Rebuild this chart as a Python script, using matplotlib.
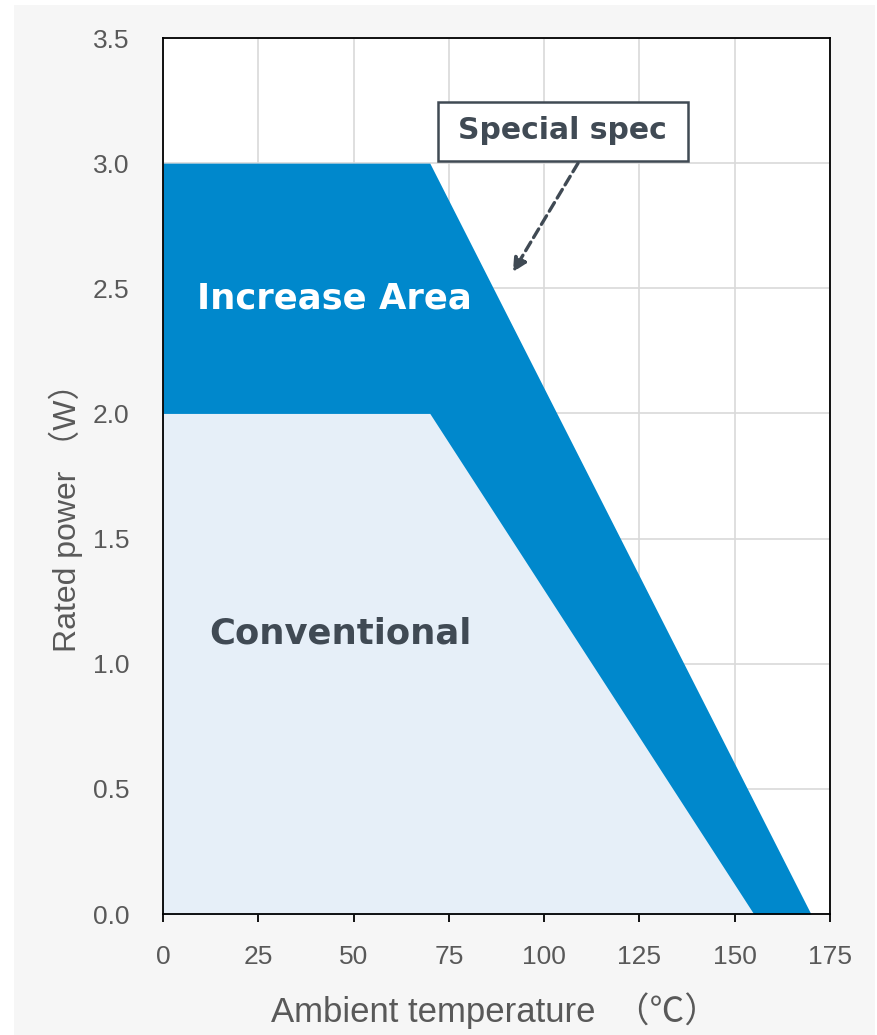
import matplotlib.pyplot as plt
from matplotlib.patches import Rectangle

# ---------- DATA ----------
special_temp = [0, 70, 170]
special_power = [3.0, 3.0, 0.0]
conv_temp = [0, 70, 155]
conv_power = [2.0, 2.0, 0.0]

x_ticks = [0, 25, 50, 75, 100, 125, 150, 175]
y_ticks = [0.0, 0.5, 1.0, 1.5, 2.0, 2.5, 3.0, 3.5]

# ---------- STYLE ----------
dark_blue = "#0088cc"
light_blue = "#e6eff8"
text_dark = "#404a54"
tick_gray = "#595959"
label_font = ["Liberation Sans", "Noto Sans CJK JP"]

fig = plt.figure(figsize=(8.77, 10.35), dpi=100, facecolor="white")
fig.patches.append(Rectangle((14 / 877, 0), 861 / 877, 1 - 5 / 1035,
                             transform=fig.transFigure, facecolor="#f6f6f6",
                             edgecolor="none", zorder=-10))

ax = fig.add_axes([163 / 877, 1 - 914 / 1035, 667 / 877, 876 / 1035])
ax.set_zorder(1)
ax.set_facecolor("white")

ax.fill_between(special_temp, special_power, 0, color=dark_blue, lw=0)
ax.fill_between(conv_temp, conv_power, 0, color=light_blue, lw=0)

ax.set_xlim(0, 175)
ax.set_ylim(0, 3.5)
ax.set_xticks(x_ticks)
ax.set_yticks(y_ticks)
ax.set_yticklabels([f"{v:.1f}" for v in y_ticks])
ax.set_axisbelow(True)
ax.grid(True, color="#d9d9d9", lw=1.2)

for s in ax.spines.values():
    s.set_color("black")
    s.set_linewidth(1.3)

ax.tick_params(axis="x", length=6, width=1.3, color="black", pad=16,
               labelsize=19, labelcolor=tick_gray)
ax.tick_params(axis="y", length=0, pad=24, labelsize=19, labelcolor=tick_gray)
for lab in ax.get_xticklabels() + ax.get_yticklabels():
    lab.set_family("Liberation Sans")

ax.set_xlabel("Ambient temperature  （℃）", family=label_font, fontsize=25,
              color=tick_gray, va="center")
ax.set_ylabel("Rated power （W）", family=label_font, fontsize=23,
              color=tick_gray, va="center")
ax.xaxis.set_label_coords(0.498, -0.11)
ax.yaxis.set_label_coords(-0.145, 0.462)

# ---------- ANNOTATIONS ----------
ax.text(44.9, 2.46, "Increase Area", fontsize=25.5, fontweight="bold",
        color="white", ha="center", va="center", family="DejaVu Sans")
ax.text(46.5, 1.12, "Conventional", fontsize=25.5, fontweight="bold",
        color=text_dark, ha="center", va="center", family="DejaVu Sans")

ax.annotate("", xy=(91.8, 2.565), xytext=(108.9, 3.0),
            arrowprops=dict(arrowstyle="-|>,head_length=0.8,head_width=0.4",
                            color=text_dark, lw=2.4, linestyle=(0, (3, 1.6)),
                            shrinkA=0, shrinkB=0))
ax.add_patch(Rectangle((72.2, 3.009), 65.5, 0.235, facecolor="white",
                       edgecolor=text_dark, lw=1.8, zorder=3))
ax.text(104.7, 3.13, "Special spec", fontsize=21.5, fontweight="bold",
        color=text_dark, ha="center", va="center", family="DejaVu Sans",
        zorder=4)

fig.savefig("out.png", dpi=100, facecolor=fig.get_facecolor())
